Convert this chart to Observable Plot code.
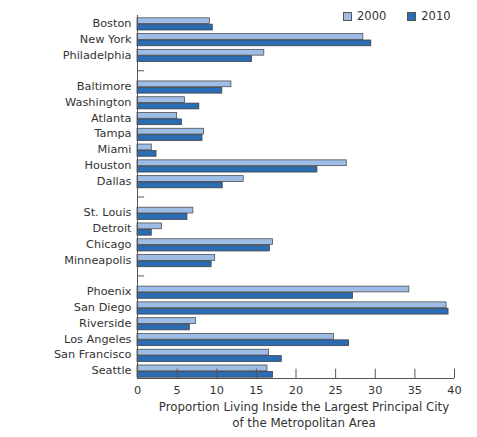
<!DOCTYPE html>
<html><head><meta charset="utf-8">
<script src="https://cdn.jsdelivr.net/npm/d3@7"></script>
<script src="https://cdn.jsdelivr.net/npm/@observablehq/plot@0.6"></script>
<style>
body{margin:0;background:#fff;font-family:"DejaVu Sans",sans-serif;}
#wrap{position:relative;width:477px;height:437px;}
#legend{position:absolute;top:9px;left:343px;display:flex;align-items:center;font-size:11.5px;color:#333;}
#legend .item{display:flex;align-items:center;margin-right:21px;}
#legend .sw{width:7px;height:7px;border:1px solid #555;margin-right:5px;}
</style></head><body><div id="wrap"><div id="legend"></div></div>
<script>
const cities = ["Boston","New York","Philadelphia"," ","Baltimore","Washington","Atlanta","Tampa","Miami","Houston","Dallas","  ","St. Louis","Detroit","Chicago","Minneapolis","   ","Phoenix","San Diego","Riverside","Los Angeles","San Francisco","Seattle"];
const v2000 = [9.15,28.5,16.0,null,11.85,6.0,5.0,8.4,1.8,26.4,13.4,null,7.05,3.1,17.1,9.8,null,34.3,39.0,7.4,24.8,16.6,16.4];
const v2010 = [9.5,29.5,14.45,null,10.7,7.8,5.6,8.2,2.4,22.7,10.75,null,6.3,1.8,16.7,9.35,null,27.2,39.25,6.6,26.7,18.2,17.1];
const years = ["2000","2010"];
const colors = ["#9dbde6","#2a6db5"];
const xTicks = [0,5,10,15,20,25,30,35,40];
const xTitle = "Proportion Living Inside the Largest Principal City\nof the Metropolitan Area";

const rows = cities.map((c,i)=>({city:c, a:v2000[i], b:v2010[i]})).filter(d=>d.a!=null);
const gaps = cities.filter(c=>!c.trim());
const H = 437, mT = 15, mB = 59;
const bw = (H - mT - mB) / cities.length;
const axisColor = "#555";

const chart = Plot.plot({
  width: 477, height: H,
  marginLeft: 137, marginRight: 23, marginTop: mT, marginBottom: mB,
  x: {domain: [0, 40]},
  y: {domain: cities, padding: 0, round: false},
  style: {fontFamily: "DejaVu Sans, sans-serif", fontSize: "11.3px", color: "#333", background: "#fff"},
  marks: [
    Plot.barX(rows, {x: "a", y: "city", fill: colors[0], stroke: "#505050", strokeWidth: 0.8, insetTop: 2.8, insetBottom: 7.2}),
    Plot.barX(rows, {x: "b", y: "city", fill: colors[1], stroke: "#404040", strokeWidth: 0.8, insetTop: 9.2, insetBottom: 0.8}),
    Plot.ruleX([0], {stroke: axisColor}),
    Plot.ruleY(gaps, {y: d => d, x1: 0, x2: 0.9, stroke: axisColor}),
    Plot.tickX(xTicks.slice(1), {x: d => d, y: () => "Seattle", insetTop: 6.5, stroke: axisColor}),
    Plot.ruleY(["Seattle"], {x1: 0, x2: 40, dy: bw / 2, stroke: axisColor}),
    Plot.axisY({tickSize: 0, tickPadding: 6, tickFormat: d => d.trim() ? d : "", label: null}),
    Plot.axisX({ticks: xTicks, tickSize: 0, tickPadding: 7, label: null}),
    Plot.text([xTitle], {frameAnchor: "bottom", lineAnchor: "top", dy: 22, dx: 8, lineHeight: 1.3, fontSize: 11.8, fill: "#333"})
  ]
});
document.getElementById("wrap").prepend(chart);

const legend = document.getElementById("legend");
years.forEach((y, i) => {
  const it = document.createElement("div");
  it.className = "item";
  it.innerHTML = `<span class="sw" style="background:${colors[i]}"></span><span>${y}</span>`;
  legend.appendChild(it);
});
</script>
</body></html>
